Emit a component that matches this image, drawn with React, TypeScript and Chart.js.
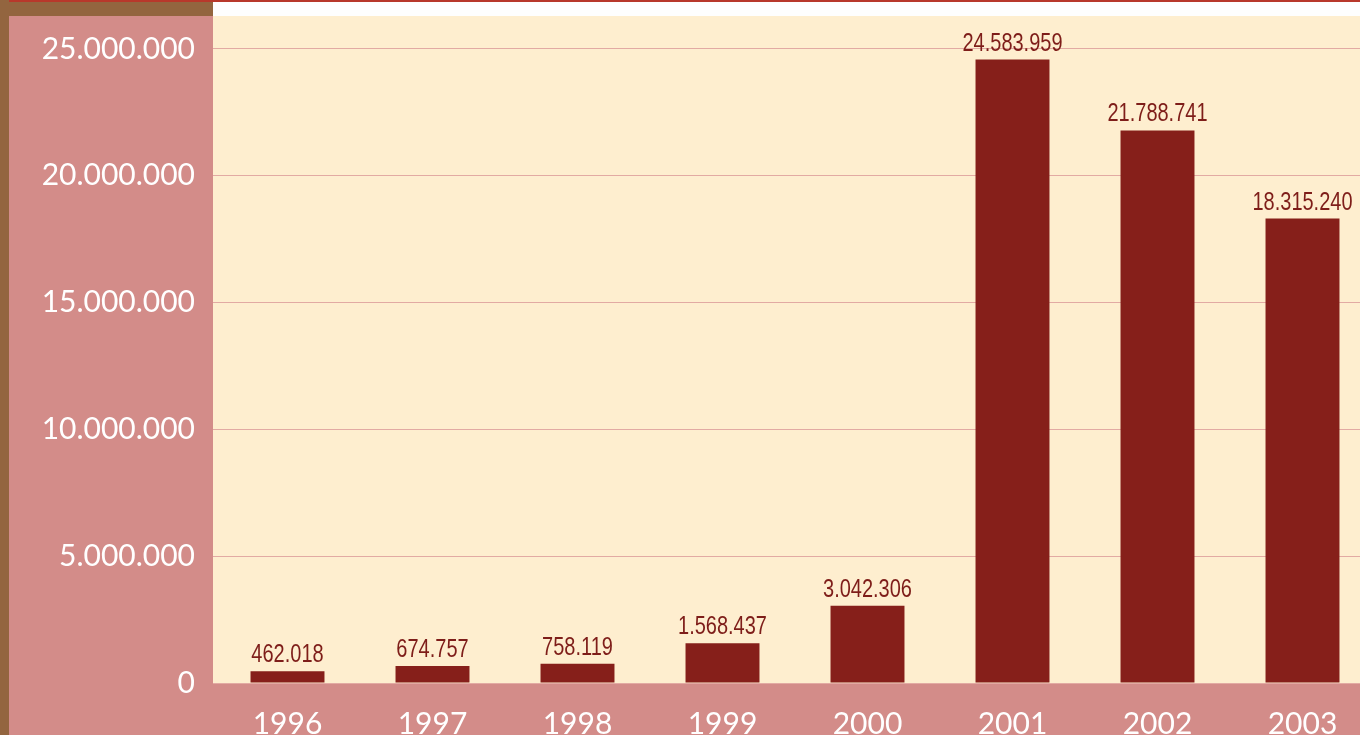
import React, { useEffect, useRef } from "react";
import { Chart, registerables } from "chart.js";

Chart.register(...registerables);

const categories = ["1996", "1997", "1998", "1999", "2000", "2001", "2002", "2003"];
const values = [462018, 674757, 758119, 1568437, 3042306, 24583959, 21788741, 18315240];
const valueLabels = ["462.018", "674.757", "758.119", "1.568.437", "3.042.306", "24.583.959", "21.788.741", "18.315.240"];
const yTickValues = [0, 5000000, 10000000, 15000000, 20000000, 25000000];
const yMax = 26300000;

const PINK = "#d38c89";
const CREAM = "#feeecf";
const BAR = "#861f1a";
const GRID = "#e2aaa3";

function fmt(v: number): string {
  return Math.round(v).toString().replace(/\B(?=(\d{3})+(?!\d))/g, ".");
}

const bgPlugin = {
  id: "bgPlugin",
  beforeDraw(chart: any) {
    const { ctx, width, height, chartArea, scales } = chart;
    const y0 = scales.y.getPixelForValue(0);
    ctx.save();
    ctx.fillStyle = PINK;
    ctx.fillRect(0, 0, width, height);
    ctx.fillStyle = "#93653f";
    ctx.fillRect(0, 0, 9, height);
    ctx.fillRect(0, 0, 213, chartArea.top);
    ctx.fillStyle = "#fefefe";
    ctx.fillRect(213, 2, width - 213, chartArea.top - 2);
    ctx.fillStyle = "#b8382b";
    ctx.fillRect(9, 0, width - 9, 2);
    ctx.fillStyle = CREAM;
    ctx.fillRect(213, chartArea.top, width - 213, y0 - chartArea.top);
    ctx.restore();
  },
};

const labelPlugin = {
  id: "labelPlugin",
  afterDatasetsDraw(chart: any) {
    const { ctx } = chart;
    const meta = chart.getDatasetMeta(0);
    ctx.save();
    ctx.fillStyle = "#7e1d19";
    ctx.font = "25px 'Liberation Sans', sans-serif";
    ctx.textAlign = "center";
    ctx.textBaseline = "alphabetic";
    meta.data.forEach((bar: any, i: number) => {
      ctx.save();
      ctx.translate(bar.x, bar.y - 9);
      ctx.scale(0.8, 1);
      ctx.fillText(valueLabels[i], 0, 0);
      ctx.restore();
    });
    ctx.restore();
  },
};

export default function App() {
  const ref = useRef<HTMLCanvasElement>(null);
  useEffect(() => {
    if (!ref.current) return;
    const chart = new Chart(ref.current, {
      type: "bar",
      data: {
        labels: categories,
        datasets: [
          {
            data: values,
            backgroundColor: BAR,
            borderWidth: 0,
            barPercentage: 0.51,
            categoryPercentage: 1,
          },
        ],
      },
      options: {
        animation: false,
        responsive: false,
        maintainAspectRatio: false,
        devicePixelRatio: 1,
        layout: { padding: { top: 16, left: 0, right: 0, bottom: 0 } },
        plugins: { legend: { display: false }, tooltip: { enabled: false } },
        scales: {
          x: {
            grid: { display: false, drawTicks: false },
            border: { display: false },
            ticks: {
              color: "#ffffff",
              font: { family: "Lato, 'Open Sans', sans-serif", size: 30 },
              padding: 23,
              maxRotation: 0,
            },
            afterFit(scale: any) {
              scale.height = 52;
              scale.paddingLeft = 0;
              scale.paddingRight = 0;
            },
          },
          y: {
            min: 0,
            max: yMax,
            grid: { color: GRID, lineWidth: 1, drawTicks: true, tickLength: 2, tickColor: GRID },
            border: { display: false },
            ticks: {
              includeBounds: false,
              color: "#ffffff",
              font: { family: "Lato, 'Open Sans', sans-serif", size: 30 },
              padding: 18,
              callback: (v: any) => fmt(Number(v)),
            },
            afterBuildTicks(scale: any) {
              scale.ticks = yTickValues.map((v) => ({ value: v }));
            },
            afterFit(scale: any) {
              scale.width = 215;
              scale.paddingTop = 0;
              scale.paddingBottom = 0;
            },
          },
        },
      },
      plugins: [bgPlugin, labelPlugin],
    });
    return () => chart.destroy();
  }, []);
  return (
    <div style={{ position: "fixed", left: 0, top: 0, width: 1360, height: 735, overflow: "hidden" }}>
      <canvas ref={ref} width={1375} height={735} style={{ display: "block" }} />
    </div>
  );
}
